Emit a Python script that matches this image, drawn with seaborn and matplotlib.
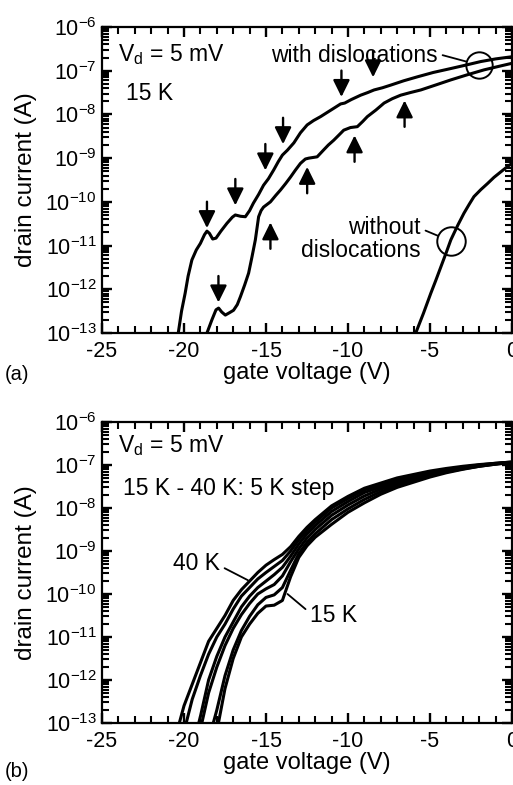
import numpy as np
import pandas as pd
import seaborn as sns
import matplotlib.pyplot as plt
from matplotlib.ticker import NullFormatter, FixedLocator

# ---- panel (a): 15 K, log10 of drain current ----
vg_upper = [-20.5, -20.35, -20.15, -19.93, -19.75, -19.52, -19.25, -19.0, -18.75, -18.6,
            -18.45, -18.25, -18.05, -17.75, -17.38, -17.05, -16.87, -16.55, -16.26, -16.0,
            -15.77, -15.45, -15.15, -14.85, -14.53, -14.25, -14.0, -13.7, -13.3, -12.9,
            -12.49, -12.1, -11.67, -11.25, -10.87, -10.45, -10.2, -9.8, -9.23, -8.8,
            -8.41, -7.9, -7.4, -6.6, -5.77, -4.8, -3.73, -2.8, -1.9, -1.0, 0.0]
logi_upper = [-13.3, -13.0, -12.5, -12.09, -11.7, -11.33, -11.1, -10.95, -10.75, -10.67,
              -10.72, -10.85, -10.83, -10.67, -10.49, -10.35, -10.30, -10.33, -10.34, -10.2,
              -10.03, -9.83, -9.62, -9.47, -9.27, -9.08, -8.93, -8.82, -8.65, -8.42,
              -8.24, -8.14, -8.05, -7.95, -7.86, -7.76, -7.74, -7.66, -7.56, -7.5,
              -7.44, -7.39, -7.33, -7.23, -7.14, -7.04, -6.95, -6.87, -6.79, -6.73, -6.68]

vg_lower = [-18.75, -18.6, -18.3, -18.05, -17.89, -17.7, -17.48, -17.2, -16.98, -16.75,
            -16.56, -16.3, -16.06, -15.85, -15.65, -15.45, -15.3, -15.15, -14.73, -14.4,
            -14.12, -13.8, -13.5, -13.2, -12.9, -12.6, -12.39, -11.88, -11.48, -11.2,
            -10.87, -10.55, -10.26, -9.85, -9.43, -9.1, -8.82, -8.3, -7.8, -7.3,
            -6.79, -6.2, -5.56, -4.6, -3.73, -2.7, -1.7, -0.8, 0.0]
logi_lower = [-13.3, -13.0, -12.7, -12.47, -12.43, -12.52, -12.59, -12.53, -12.48, -12.35,
              -12.17, -11.9, -11.63, -11.25, -10.87, -10.34, -10.2, -10.12, -10.0, -9.85,
              -9.73, -9.58, -9.43, -9.27, -9.12, -9.02, -9.0, -8.97, -8.81, -8.7,
              -8.59, -8.47, -8.36, -8.3, -8.28, -8.16, -8.05, -7.9, -7.74, -7.64,
              -7.56, -7.5, -7.44, -7.32, -7.21, -7.09, -6.98, -6.9, -6.83]

vg_clean = [-6.2, -5.87, -5.4, -4.95, -4.65, -4.34, -4.0, -3.73, -3.3, -2.93,
            -2.6, -2.32, -1.9, -1.49, -1.1, -0.67, -0.3, 0.0]
logi_clean = [-13.6, -13.0, -12.55, -12.09, -11.8, -11.49, -11.15, -10.87, -10.53, -10.26,
              -10.05, -9.88, -9.72, -9.58, -9.44, -9.31, -9.2, -9.12]

# arrows: gate voltage and log10 current of the tip
arrow_down_v = [-18.6, -16.87, -15.04, -13.96, -10.4, -8.47, -17.9]
arrow_down_tip = [-10.6, -10.08, -9.28, -8.68, -7.6, -7.15, -12.3]
arrow_up_v = [-14.73, -12.49, -9.6, -6.55]
arrow_up_tip = [-10.47, -9.2, -8.48, -7.68]

# ---- panel (b): 15 K - 40 K ----
vg_b = [-20.5, -20, -19.5, -19, -18.5, -18, -17.5, -17, -16.5, -16, -15.5, -15, -14.5, -14,
        -13.5, -13, -12.5, -12, -11, -10, -9, -8, -7, -6, -5, -4, -3, -2, -1, 0]
temps = [15, 20, 25, 30, 35, 40]
logi_b = {
    15: [-16.5, -15.8, -15.1, -14.4, -13.7, -13.2, -12.2, -11.5, -11.0, -10.7, -10.45, -10.28,
         -10.26, -10.15, -9.6, -9.15, -8.88, -8.68, -8.38, -8.1, -7.88, -7.68, -7.52, -7.4,
         -7.28, -7.18, -7.1, -7.03, -6.98, -6.94],
    20: [-16.2, -15.5, -14.8, -14.1, -13.4, -12.7, -11.9, -11.3, -10.85, -10.52, -10.25, -10.08,
         -10.02, -9.85, -9.45, -9.06, -8.8, -8.6, -8.27, -8.02, -7.8, -7.62, -7.48, -7.36,
         -7.25, -7.16, -7.09, -7.03, -6.98, -6.94],
    25: [-15.5, -14.8, -14.0, -13.15, -12.3, -11.7, -11.2, -10.8, -10.48, -10.22, -10.0, -9.88,
         -9.78, -9.58, -9.25, -8.95, -8.7, -8.5, -8.17, -7.93, -7.72, -7.56, -7.43, -7.32,
         -7.23, -7.14, -7.08, -7.02, -6.97, -6.94],
    30: [-15.0, -14.3, -13.6, -12.85, -12.0, -11.45, -11.0, -10.65, -10.3, -10.05, -9.85, -9.7,
         -9.55, -9.38, -9.12, -8.84, -8.6, -8.41, -8.08, -7.85, -7.64, -7.51, -7.38, -7.28,
         -7.2, -7.12, -7.06, -7.01, -6.97, -6.94],
    35: [-13.9, -13.2, -12.45, -11.9, -11.4, -11.0, -10.7, -10.35, -10.05, -9.85, -9.65, -9.5,
         -9.36, -9.22, -9.0, -8.74, -8.52, -8.33, -8.0, -7.78, -7.58, -7.46, -7.34, -7.25,
         -7.17, -7.1, -7.05, -7.0, -6.96, -6.93],
    40: [-13.3, -12.6, -12.1, -11.6, -11.1, -10.8, -10.5, -10.15, -9.9, -9.7, -9.5, -9.33,
         -9.2, -9.08, -8.9, -8.66, -8.45, -8.27, -7.95, -7.73, -7.54, -7.42, -7.3, -7.22,
         -7.14, -7.08, -7.03, -6.99, -6.96, -6.93],
}

sns.set_theme(style="ticks")
plt.rcParams["font.family"] = ["Liberation Sans", "DejaVu Sans"]
plt.rcParams["mathtext.default"] = "regular"
plt.rcParams["axes.unicode_minus"] = False
plt.rcParams["axes.linewidth"] = 1.6
for key in ["text.color", "axes.labelcolor", "xtick.color", "ytick.color", "axes.edgecolor"]:
    plt.rcParams[key] = "black"

W, H = 513, 785
fig = plt.figure(figsize=(W / 100, H / 100), dpi=100)
ax_a = fig.add_axes([102 / W, 1 - 333 / H, 410 / W, 306 / H])
ax_b = fig.add_axes([102 / W, 1 - 723 / H, 410 / W, 301 / H])

decades = list(range(-13, -5))
minor_y = [m * 10.0 ** k for k in range(-13, -6) for m in range(2, 10)]

line_kw = dict(color="black", linewidth=2.2, sort=False, estimator=None)

# panel (a) curves
sns.lineplot(x=vg_upper, y=10.0 ** np.array(logi_upper), ax=ax_a, **line_kw)
sns.lineplot(x=vg_lower, y=10.0 ** np.array(logi_lower), ax=ax_a, **line_kw)
sns.lineplot(x=vg_clean, y=10.0 ** np.array(logi_clean), ax=ax_a, **line_kw)

# panel (b) curves
df_b = pd.DataFrame({
    "vg": np.tile(vg_b, len(temps)),
    "temp": np.repeat(temps, len(vg_b)),
    "logi": np.concatenate([logi_b[t] for t in temps]),
})
df_b["id"] = 10.0 ** df_b["logi"]
sns.lineplot(data=df_b, x="vg", y="id", units="temp", ax=ax_b, **line_kw)

for ax in (ax_a, ax_b):
    ax.set_yscale("log")
    ax.set_xlim(-25, 0)
    ax.set_ylim(1e-13, 1e-6)
    ax.set_xticks([-25, -20, -15, -10, -5, 0])
    ax.set_xticks(np.arange(-25, 1, 1), minor=True)
    ax.yaxis.set_major_locator(FixedLocator([10.0 ** k for k in decades]))
    ax.yaxis.set_minor_locator(FixedLocator(minor_y))
    ax.yaxis.set_minor_formatter(NullFormatter())
    ax.tick_params(which="both", direction="in", top=True, right=True)
    ax.tick_params(which="major", length=7, width=1.7, labelsize=15.5)
    ax.tick_params(axis="x", which="major", pad=6)
    ax.tick_params(axis="y", which="major", pad=4)
    ax.tick_params(which="minor", length=5, width=1.5)
    ax.set_xlabel("gate voltage (V)", fontsize=17, labelpad=0)
    ax.set_ylabel("drain current (A)", fontsize=17.5, labelpad=6)

arrow_kw = dict(arrowstyle="-|>,head_length=0.85,head_width=0.42", mutation_scale=12,
                color="black", lw=1.7, shrinkA=0, shrinkB=0)
for v, t in zip(arrow_down_v, arrow_down_tip):
    ax_a.annotate("", xy=(v, 10.0 ** t), xytext=(0, 19), textcoords="offset points",
                  arrowprops=arrow_kw)
for v, t in zip(arrow_up_v, arrow_up_tip):
    ax_a.annotate("", xy=(v, 10.0 ** t), xytext=(0, -19), textcoords="offset points",
                  arrowprops=arrow_kw)

# circles marking the curves
circ_with = (-2.0, -6.87)
circ_without = (-3.73, -10.9)
for cx, cy, ms in [(circ_with[0], circ_with[1], 19), (circ_without[0], circ_without[1], 20.5)]:
    ax_a.plot([cx], [10.0 ** cy], marker="o", ms=ms, mfc="none", mec="black", mew=1.4)

ax_a.annotate("with dislocations", xy=(circ_with[0], 10.0 ** circ_with[1]),
              xytext=(0.8195, 0.887), textcoords="axes fraction", ha="right", va="baseline",
              fontsize=16.5,
              arrowprops=dict(arrowstyle="-", lw=1.3, color="black", shrinkA=1, shrinkB=9.5,
                              relpos=(1, 0.55)))
ax_a.annotate("without\ndislocations", xy=(circ_without[0], 10.0 ** circ_without[1]),
              xytext=(0.778, 0.249), textcoords="axes fraction", ha="right", va="baseline",
              multialignment="right", linespacing=1.0, fontsize=16.5,
              arrowprops=dict(arrowstyle="-", lw=1.3, color="black", shrinkA=1, shrinkB=10,
                              relpos=(1, 0.72)))

ax_a.text(0.039, 0.887, r"V$_\mathregular{d}$ = 5 mV", transform=ax_a.transAxes,
          fontsize=16.5, va="baseline")
ax_a.text(0.059, 0.761, "15 K", transform=ax_a.transAxes, fontsize=16.5, va="baseline")

ax_b.text(0.039, 0.901, r"V$_\mathregular{d}$ = 5 mV", transform=ax_b.transAxes,
          fontsize=16.5, va="baseline")
ax_b.text(0.051, 0.757, "15 K - 40 K: 5 K step", transform=ax_b.transAxes,
          fontsize=16.5, va="baseline")
ax_b.annotate("40 K", xy=(-16.1, 10.0 ** -9.68), xytext=(0.288, 0.508),
              textcoords="axes fraction", ha="right", va="baseline", fontsize=16.5,
              arrowprops=dict(arrowstyle="-", lw=1.3, color="black", shrinkA=1, shrinkB=0,
                              relpos=(1, 0.4)))
ax_b.annotate("15 K", xy=(-13.69, 10.0 ** -10.0), xytext=(0.507, 0.337),
              textcoords="axes fraction", ha="left", va="baseline", fontsize=16.5,
              arrowprops=dict(arrowstyle="-", lw=1.3, color="black", shrinkA=1, shrinkB=0,
                              relpos=(0, 0.6)))

fig.text(5 / W, 1 - 380 / H, "(a)", fontsize=14.5, va="baseline")
fig.text(5 / W, 1 - 777 / H, "(b)", fontsize=14.5, va="baseline")

fig.savefig("out.png", dpi=100, facecolor="white")
